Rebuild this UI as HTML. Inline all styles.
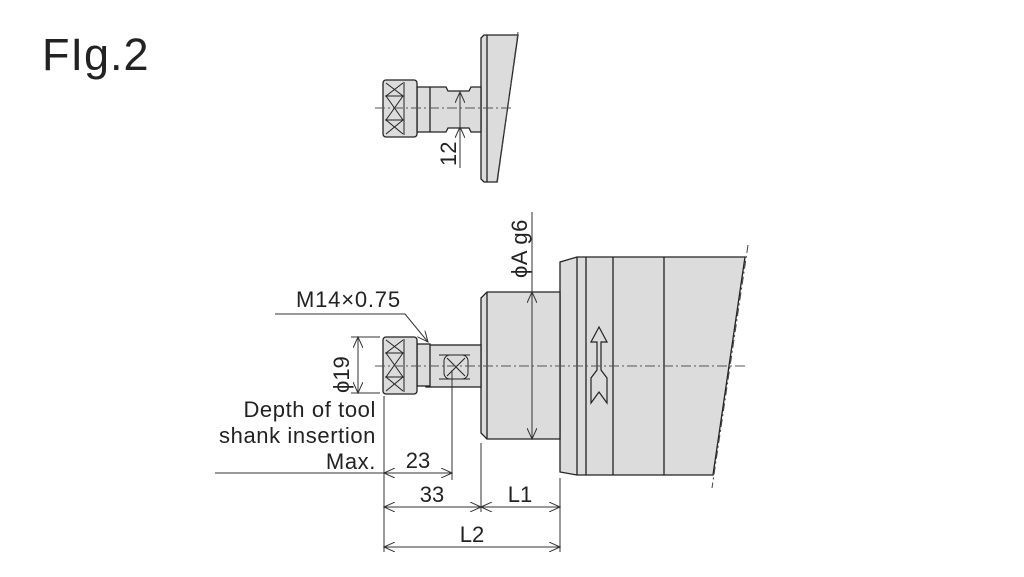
<!DOCTYPE html>
<html><head><meta charset="utf-8"><style>
body{margin:0;background:#fff;width:1024px;height:577px;overflow:hidden}
svg{display:block}
text{font-family:"Liberation Sans","DejaVu Sans",sans-serif;fill:#222}
</style></head><body>
<svg width="1024" height="577" viewBox="0 0 1024 577">
<defs>
<marker id="a" markerWidth="12" markerHeight="10" refX="11" refY="5" orient="auto-start-reverse" markerUnits="userSpaceOnUse">
<path d="M0,0 L11,5 L0,10" fill="none" stroke="#333" stroke-width="1"/></marker>
</defs>
<text x="42" y="70" font-size="45" letter-spacing="1">FIg.2</text>

<!-- Top figure -->
<g stroke="#222" stroke-width="1.3" fill="#dcdcdc">
<path d="M481,38 L484,35 L518,35 L497,182 L484,182 L481,179 Z"/>
<line x1="487" y1="35" x2="487" y2="182"/>
<path d="M417,87 L446,87 L448,91 L469,91 L471,87 L481,87 L481,132 L471,132 L469,128 L448,128 L446,132 L417,132 Z"/>
<line x1="430" y1="87" x2="430" y2="132"/>
<rect x="383" y="80" width="34" height="57" rx="3"/>
</g>
<g stroke="#222" stroke-width="1" fill="none">
<path d="M386,83 L403,96 M403,83 L386,96 M386,96 L403,120 M403,96 L386,120 M386,120 L403,134 M403,120 L386,134"/>
<line x1="404" y1="82" x2="404" y2="135"/>
<line x1="385" y1="96" x2="404" y2="96"/><line x1="385" y1="120" x2="404" y2="120"/>
</g>
<line x1="375" y1="108" x2="512" y2="108" stroke="#555" stroke-dasharray="10,3,2,3" stroke-width="1"/>
<line x1="518" y1="32" x2="497" y2="185" stroke="#444" stroke-dasharray="8,3,2,3"/>
<line x1="460" y1="92" x2="460" y2="168" stroke="#333" marker-start="url(#a)" stroke-width="1"/>
<line x1="460" y1="128" x2="460" y2="127" stroke="#333" marker-end="url(#a)"/>
<text transform="translate(456,166) rotate(-90)" font-size="22">12</text>

<!-- Main figure -->
<g stroke="#222" stroke-width="1.3" fill="#dcdcdc">
<path d="M560,262 L577,257 L745,257 L713,475 L577,475 L560,472 Z"/>
<path d="M481,298 L487,292 L560,292 L560,439 L487,439 L481,433 Z"/>
<rect x="426" y="345" width="55" height="42"/>
<rect x="417" y="344" width="13" height="42"/>
<rect x="383" y="337" width="34" height="57" rx="3"/>
</g>
<g stroke="#222" stroke-width="1.3">
<line x1="577" y1="257" x2="577" y2="475"/>
<line x1="586" y1="257" x2="586" y2="475"/>
<line x1="613" y1="257" x2="613" y2="475"/>
<line x1="664" y1="257" x2="664" y2="475"/>
<line x1="487" y1="292" x2="487" y2="439"/>
</g>
<g stroke="#222" stroke-width="1" fill="none">
<path d="M386,340 L403,353 M403,340 L386,353 M386,353 L403,377 M403,353 L386,377 M386,377 L403,391 M403,377 L386,391"/>
<line x1="404" y1="339" x2="404" y2="392"/>
<line x1="385" y1="353" x2="404" y2="353"/><line x1="385" y1="377" x2="404" y2="377"/>
<rect x="444" y="355" width="24" height="24" rx="6"/>
<path d="M447,358 L465,376 M465,358 L447,376"/>
<line x1="439" y1="355" x2="470" y2="355"/><line x1="439" y1="379" x2="470" y2="379"/>
<path d="M599,327 L591,342 L597,342 L597,370 L591,378 L591,403 L599,392 L607,403 L607,378 L601,370 L601,342 L607,342 Z" stroke-width="1.2"/>
</g>
<line x1="375" y1="366" x2="748" y2="366" stroke="#555" stroke-dasharray="10,3,2,3"/>
<line x1="748" y1="245" x2="712" y2="488" stroke="#444" stroke-dasharray="8,3,2,3"/>

<!-- dimensions -->
<g stroke="#333" stroke-width="1" fill="none">
<line x1="532" y1="212" x2="532" y2="292"/>
<line x1="532" y1="292" x2="532" y2="439" marker-start="url(#a)" marker-end="url(#a)"/>
<line x1="351" y1="337" x2="380" y2="337"/><line x1="351" y1="393" x2="380" y2="393"/>
<line x1="358" y1="337" x2="358" y2="393" marker-start="url(#a)" marker-end="url(#a)"/>
<path d="M275,314 L405,314 L428,342" marker-end="url(#a)"/>
<line x1="384" y1="396" x2="384" y2="552"/>
<line x1="452" y1="370" x2="452" y2="480"/>
<line x1="481" y1="443" x2="481" y2="512"/>
<line x1="560" y1="478" x2="560" y2="552"/>
<line x1="215" y1="473" x2="384" y2="473"/>
<line x1="384" y1="473" x2="452" y2="473" marker-start="url(#a)" marker-end="url(#a)"/>
<line x1="384" y1="507" x2="481" y2="507" marker-start="url(#a)" marker-end="url(#a)"/>
<line x1="481" y1="507" x2="560" y2="507" marker-start="url(#a)" marker-end="url(#a)"/>
<line x1="384" y1="547" x2="560" y2="547" marker-start="url(#a)" marker-end="url(#a)"/>
</g>
<text transform="translate(527,278) rotate(-90)" font-size="22" letter-spacing="0.5">ϕA g6</text>
<text transform="translate(349,393) rotate(-90)" font-size="22">ϕ19</text>
<text x="296" y="307" font-size="22" letter-spacing="0.8">M14×0.75</text>
<g font-size="22" text-anchor="end" letter-spacing="0.6">
<text x="376" y="417">Depth of tool</text>
<text x="376" y="443">shank insertion</text>
<text x="376" y="469">Max.</text>
</g>
<g font-size="22" text-anchor="middle">
<text x="418" y="468">23</text>
<text x="432" y="502">33</text>
<text x="520" y="502">L1</text>
<text x="472" y="542">L2</text>
</g>
</svg>
</body></html>
